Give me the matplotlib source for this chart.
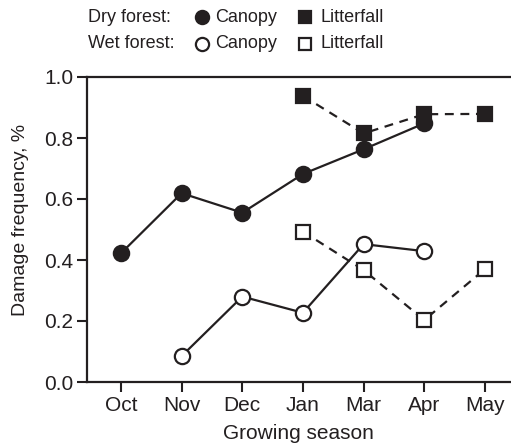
import matplotlib
matplotlib.use("Agg")
import matplotlib.pyplot as plt
from matplotlib.lines import Line2D
import numpy as np

plt.rcParams['font.family'] = ['Liberation Sans', 'DejaVu Sans']

months = ["Oct", "Nov", "Dec", "Jan", "Mar", "Apr", "May"]

dry_canopy_months = ["Oct", "Nov", "Dec", "Jan", "Mar", "Apr"]
dry_canopy = [0.422, 0.619, 0.555, 0.682, 0.763, 0.848]

dry_litter_months = ["Jan", "Mar", "Apr", "May"]
dry_litter = [0.938, 0.815, 0.878, 0.879]

wet_canopy_months = ["Nov", "Dec", "Jan", "Mar", "Apr"]
wet_canopy = [0.085, 0.280, 0.227, 0.452, 0.429]

wet_litter_months = ["Jan", "Mar", "Apr", "May"]
wet_litter = [0.493, 0.367, 0.203, 0.370]

yticks = [0.0, 0.2, 0.4, 0.6, 0.8, 1.0]

C = '#231f20'
W, H = 511, 446
fig = plt.figure(figsize=(W / 100, H / 100), dpi=100)
ax = fig.add_axes([87 / W, 1 - 382 / H, (511 - 87) / W, (382 - 77) / H])

idx = {m: i for i, m in enumerate(months)}
def xs(ms):
    return [idx[m] for m in ms]

ms = 10.5
mew = 1.6
lw = 1.6
ax.plot(xs(dry_litter_months), dry_litter, ls=(0, (4, 3)), color=C, lw=lw,
        marker='s', ms=ms, mfc=C, mec=C, mew=mew, zorder=3)
ax.plot(xs(dry_canopy_months), dry_canopy, ls='-', color=C, lw=lw,
        marker='o', ms=ms + 0.5, mfc=C, mec=C, mew=mew, zorder=4)
ax.plot(xs(wet_litter_months), wet_litter, ls=(0, (4, 3)), color=C, lw=lw,
        marker='s', ms=ms - 0.5, mfc='white', mec=C, mew=mew, zorder=3)
ax.plot(xs(wet_canopy_months), wet_canopy, ls='-', color=C, lw=lw,
        marker='o', ms=ms + 0.5, mfc='white', mec=C, mew=mew, zorder=4)

ax.set_xlim(-0.56, 6.43)
ax.set_ylim(0, 1.0)
ax.set_xticks(range(len(months)))
ax.set_xticklabels(months)
ax.set_yticks(yticks)
ax.set_yticklabels([f"{v:.1f}" for v in yticks])

for s in ['left', 'bottom', 'top']:
    ax.spines[s].set_linewidth(1.6)
    ax.spines[s].set_color(C)
ax.spines['right'].set_visible(False)
ax.tick_params(axis='both', direction='out', length=7, width=1.5, color=C,
               labelsize=15, labelcolor=C, pad=3)
ax.set_xlabel("Growing season", fontsize=15, color=C)
ax.set_ylabel("Damage frequency, %", fontsize=14, color=C)
ax.xaxis.set_label_coords(0.499, -0.17)
ax.yaxis.set_label_coords(-0.158, 0.53)
ax.xaxis.label.set_va('center')
ax.yaxis.label.set_va('center')

# custom legend in figure coordinates
fs = 13
rows = [(1 - 17 / H, "Dry forest:", C), (1 - 44 / H, "Wet forest:", 'white')]
for y, lab, fc in rows:
    fig.text(88 / W, y, lab, fontsize=fs, color=C, va='center', ha='left')
    fig.add_artist(Line2D([202 / W], [y], transform=fig.transFigure, marker='o',
                          ms=9.5, mfc=fc, mec=C, mew=mew, ls='none'))
    fig.text(215 / W, y, "Canopy", fontsize=fs, color=C, va='center', ha='left')
    fig.add_artist(Line2D([305 / W], [y], transform=fig.transFigure, marker='s',
                          ms=9, mfc=fc, mec=C, mew=mew, ls='none'))
    fig.text(320 / W, y, "Litterfall", fontsize=fs, color=C, va='center', ha='left')

fig.savefig("out.png", dpi=100)
